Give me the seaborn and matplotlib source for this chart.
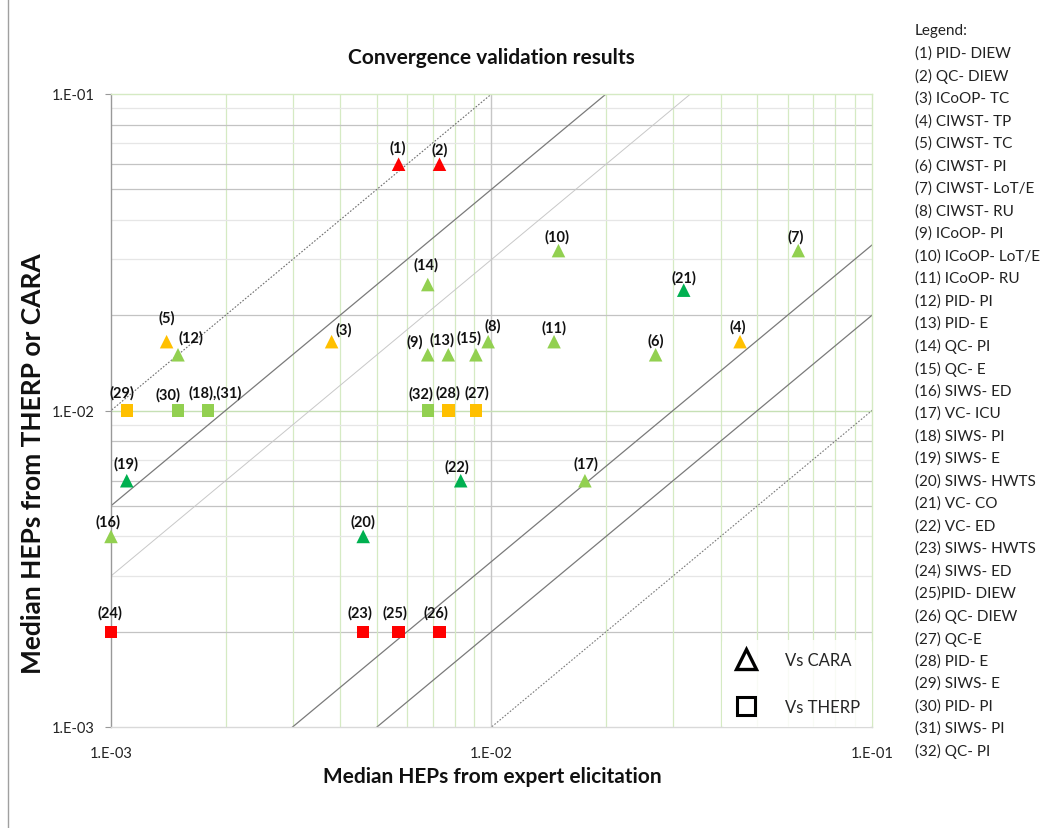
import numpy as np
import pandas as pd
import matplotlib
matplotlib.use("Agg")
import matplotlib.pyplot as plt
from matplotlib.lines import Line2D
from matplotlib.ticker import FixedLocator, FixedFormatter, NullFormatter
import seaborn as sns

# ---- data -------------------------------------------------------------
point_tags = ["(1)", "(2)", "(3)", "(4)", "(5)", "(6)", "(7)", "(8)", "(9)", "(10)",
              "(11)", "(12)", "(13)", "(14)", "(15)", "(16)", "(17)", "(19)", "(20)",
              "(21)", "(22)",
              "(18),(31)", "(23)", "(24)", "(25)", "(26)", "(27)", "(28)", "(29)",
              "(30)", "(32)"]
expert_hep = [0.0057, 0.0073, 0.0038, 0.045, 0.0014, 0.027, 0.064, 0.0098, 0.0068, 0.015,
              0.0146, 0.0015, 0.0077, 0.0068, 0.0091, 0.001, 0.0176, 0.0011, 0.0046,
              0.032, 0.0083,
              0.0018, 0.0046, 0.001, 0.0057, 0.0073, 0.0091, 0.0077, 0.0011,
              0.0015, 0.0068]
model_hep = [0.06, 0.06, 0.0165, 0.0165, 0.0165, 0.015, 0.032, 0.0165, 0.015, 0.032,
             0.0165, 0.015, 0.015, 0.025, 0.015, 0.004, 0.006, 0.006, 0.004,
             0.024, 0.006,
             0.01, 0.002, 0.002, 0.002, 0.002, 0.01, 0.01, 0.01,
             0.01, 0.01]
rating = ["red", "red", "amber", "amber", "amber", "light green", "light green",
          "light green", "light green", "light green", "light green", "light green",
          "light green", "light green", "light green", "light green", "light green",
          "dark green", "dark green", "dark green", "dark green",
          "light green", "red", "red", "red", "red", "amber", "amber", "amber",
          "light green", "light green"]
compared_with = ["CARA"] * 21 + ["THERP"] * 10

legend_title = "Legend:"
legend_entries = ["(1) PID- DIEW", "(2) QC- DIEW", "(3) ICoOP- TC", "(4) CIWST- TP",
                  "(5) CIWST- TC", "(6) CIWST- PI", "(7) CIWST- LoT/E", "(8) CIWST- RU",
                  "(9) ICoOP- PI", "(10) ICoOP- LoT/E", "(11) ICoOP- RU", "(12) PID- PI",
                  "(13) PID- E", "(14) QC- PI", "(15) QC- E", "(16) SIWS- ED",
                  "(17) VC- ICU", "(18) SIWS- PI", "(19) SIWS- E", "(20) SIWS- HWTS",
                  "(21) VC- CO", "(22) VC- ED", "(23) SIWS- HWTS", "(24) SIWS- ED",
                  "(25)PID- DIEW", "(26) QC- DIEW", "(27) QC-E", "(28) PID- E",
                  "(29) SIWS- E", "(30) PID- PI", "(31) SIWS- PI", "(32) QC- PI"]

# reference lines y = k * x
ref_ratios = [10, 5, 3, 1 / 3, 1 / 5, 1 / 10]

tick_values = [1e-3, 1e-2, 1e-1]
tick_labels = ["1.E-03", "1.E-02", "1.E-01"]

title = "Convergence validation results"
x_title = "Median HEPs from expert elicitation"
y_title = "Median HEPs from THERP or CARA"

# ---- styles -----------------------------------------------------------
palette = {"red": "#FF0000", "amber": "#FFC000",
           "light green": "#92D050", "dark green": "#00B050"}
ref_styles = [
    dict(color="#6e6e6e", lw=0.8, ls=(0, (1.5, 1.5))),
    dict(color="#7a7a7a", lw=0.9, ls="-"),
    dict(color="#c8c8c8", lw=0.7, ls="-"),
    dict(color="#7a7a7a", lw=0.9, ls="-"),
    dict(color="#7a7a7a", lw=0.9, ls="-"),
    dict(color="#7a7a7a", lw=0.8, ls=(0, (1.5, 1.5))),
]
# label offsets in pixels (dx, dy) from each marker
label_offsets = {
    "(1)": (-1, 17), "(2)": (0, 15), "(3)": (12, 12), "(4)": (-2, 15),
    "(5)": (0, 24), "(6)": (0, 14), "(7)": (-3, 14), "(8)": (5, 16),
    "(9)": (-13, 13), "(10)": (-2, 14), "(11)": (0, 14), "(12)": (13, 17),
    "(13)": (-6, 15), "(14)": (-2, 20), "(15)": (-7, 17), "(16)": (-3, 15),
    "(17)": (1, 17), "(19)": (-1, 17), "(20)": (0, 15), "(21)": (0, 13),
    "(22)": (-4, 14), "(18),(31)": (7, 18), "(23)": (-3, 19), "(24)": (-1, 19),
    "(25)": (-4, 19), "(26)": (-4, 19), "(27)": (1, 18), "(28)": (0, 18),
    "(29)": (-5, 18), "(30)": (-10, 16), "(32)": (-7, 17),
}

df = pd.DataFrame({"tag": point_tags, "expert": expert_hep, "model": model_hep,
                   "rating": rating, "vs": compared_with})

sns.set_style("white")
plt.rcParams["font.family"] = ["Lato", "DejaVu Sans"]

W, H = 1042, 829
fig = plt.figure(figsize=(W / 100, H / 100), dpi=100)
ax = fig.add_axes([111 / W, 1 - 728 / H, (872 - 111) / W, (728 - 95) / H])
ax.set_xscale("log")
ax.set_yscale("log")
ax.set_xlim(1e-3, 1e-1)
ax.set_ylim(1e-3, 1e-1)

# grid: light green verticals, grey horizontals
minor_vals = [m * 10.0 ** e for e in (-3, -2) for m in range(2, 10)]
for v in minor_vals:
    ax.axvline(v, color="#d5eac3", lw=0.9, zorder=0)
    digit = round(v / 10 ** np.floor(np.log10(v) + 1e-9))
    hc = "#c3c3c3" if digit in (2, 5, 6, 8) else "#e6e6e6"
    ax.axhline(v, color=hc, lw=0.9, zorder=0)
ax.axvline(1e-2, color="#c6c6c6", lw=1.0, zorder=0)
ax.axhline(1e-2, color="#c6e0b4", lw=1.0, zorder=0)

# reference ratio lines
xs = np.array([1e-4, 1.0])
for k, st in zip(ref_ratios, ref_styles):
    ax.plot(xs, k * xs, zorder=1, **st)

# points
tri = df[df.vs == "CARA"]
sq = df[df.vs == "THERP"]
sns.scatterplot(data=tri, x="expert", y="model", hue="rating", palette=palette,
                marker="^", s=95, linewidth=0, legend=False, ax=ax, zorder=3,
                clip_on=False)
sns.scatterplot(data=sq, x="expert", y="model", hue="rating", palette=palette,
                marker="s", s=80, linewidth=0, legend=False, ax=ax, zorder=3,
                clip_on=False)

for tag, xv, yv in zip(df.tag, df.expert, df.model):
    dx, dy = label_offsets[tag]
    ax.annotate(tag, (xv, yv), xytext=(dx, dy), textcoords="offset pixels",
                ha="center", va="center", fontsize=10.5, fontweight="bold",
                color="#111111", zorder=4)

# axes styling
for s in ("top", "right"):
    ax.spines[s].set_color("#d5eac3")
ax.spines["left"].set_color("#999999")
ax.spines["bottom"].set_color("#d9d9d9")
for s in ax.spines.values():
    s.set_linewidth(1.0)

ax.xaxis.set_major_locator(FixedLocator(tick_values))
ax.xaxis.set_major_formatter(FixedFormatter(tick_labels))
ax.yaxis.set_major_locator(FixedLocator(tick_values))
ax.yaxis.set_major_formatter(FixedFormatter(tick_labels))
ax.xaxis.set_minor_formatter(NullFormatter())
ax.yaxis.set_minor_formatter(NullFormatter())
ax.tick_params(which="minor", length=0)
ax.tick_params(axis="y", which="major", length=4, color="#999999", pad=8,
               labelsize=10.5, labelcolor="#222222", left=True)
ax.tick_params(axis="x", which="major", length=0, pad=14,
               labelsize=10.5, labelcolor="#222222", bottom=True)

ax.set_xlabel(x_title, fontsize=15, fontweight="bold", color="#111111")
ax.xaxis.set_label_coords(0.501, -(777 - 728) / 633)
ax.xaxis.label.set_va("center")
ax.set_ylabel(y_title, fontsize=19, fontweight="bold", color="#111111")
ax.yaxis.set_label_coords(-(111 - 33) / 761, (728 - 464) / 633)
ax.yaxis.label.set_va("center")
ax.set_title(title, fontsize=15, fontweight="bold", pad=22, color="#111111")

# marker key
key_handles = [
    Line2D([], [], marker="^", ls="none", markersize=15, markerfacecolor="none",
           markeredgecolor="black", markeredgewidth=2.4),
    Line2D([], [], marker="s", ls="none", markersize=13, markerfacecolor="none",
           markeredgecolor="black", markeredgewidth=2.2),
]
leg = ax.legend(key_handles, ["Vs CARA", "Vs THERP"], loc="lower right",
                bbox_to_anchor=(1.0, 0.0), borderaxespad=0.0, frameon=True,
                facecolor="white", edgecolor="none", framealpha=0.85,
                fontsize=12, labelspacing=1.9, handletextpad=1.6,
                borderpad=0.7, handlelength=1.5)
leg.set_zorder(5)

# side key of abbreviations
fig.text(915 / W, 1 - 31 / H, legend_title, fontsize=11, va="center", ha="left",
         color="#222222")
for i, entry in enumerate(legend_entries):
    fig.text(915 / W, 1 - (54 + 22.5 * i) / H, entry, fontsize=11, va="center",
             ha="left", color="#222222")

# thin frame line on the left edge
fig.add_artist(Line2D([8 / W, 8 / W], [0, 1], color="#a0a0a0", lw=1.0))

fig.savefig("out.png", dpi=100)
